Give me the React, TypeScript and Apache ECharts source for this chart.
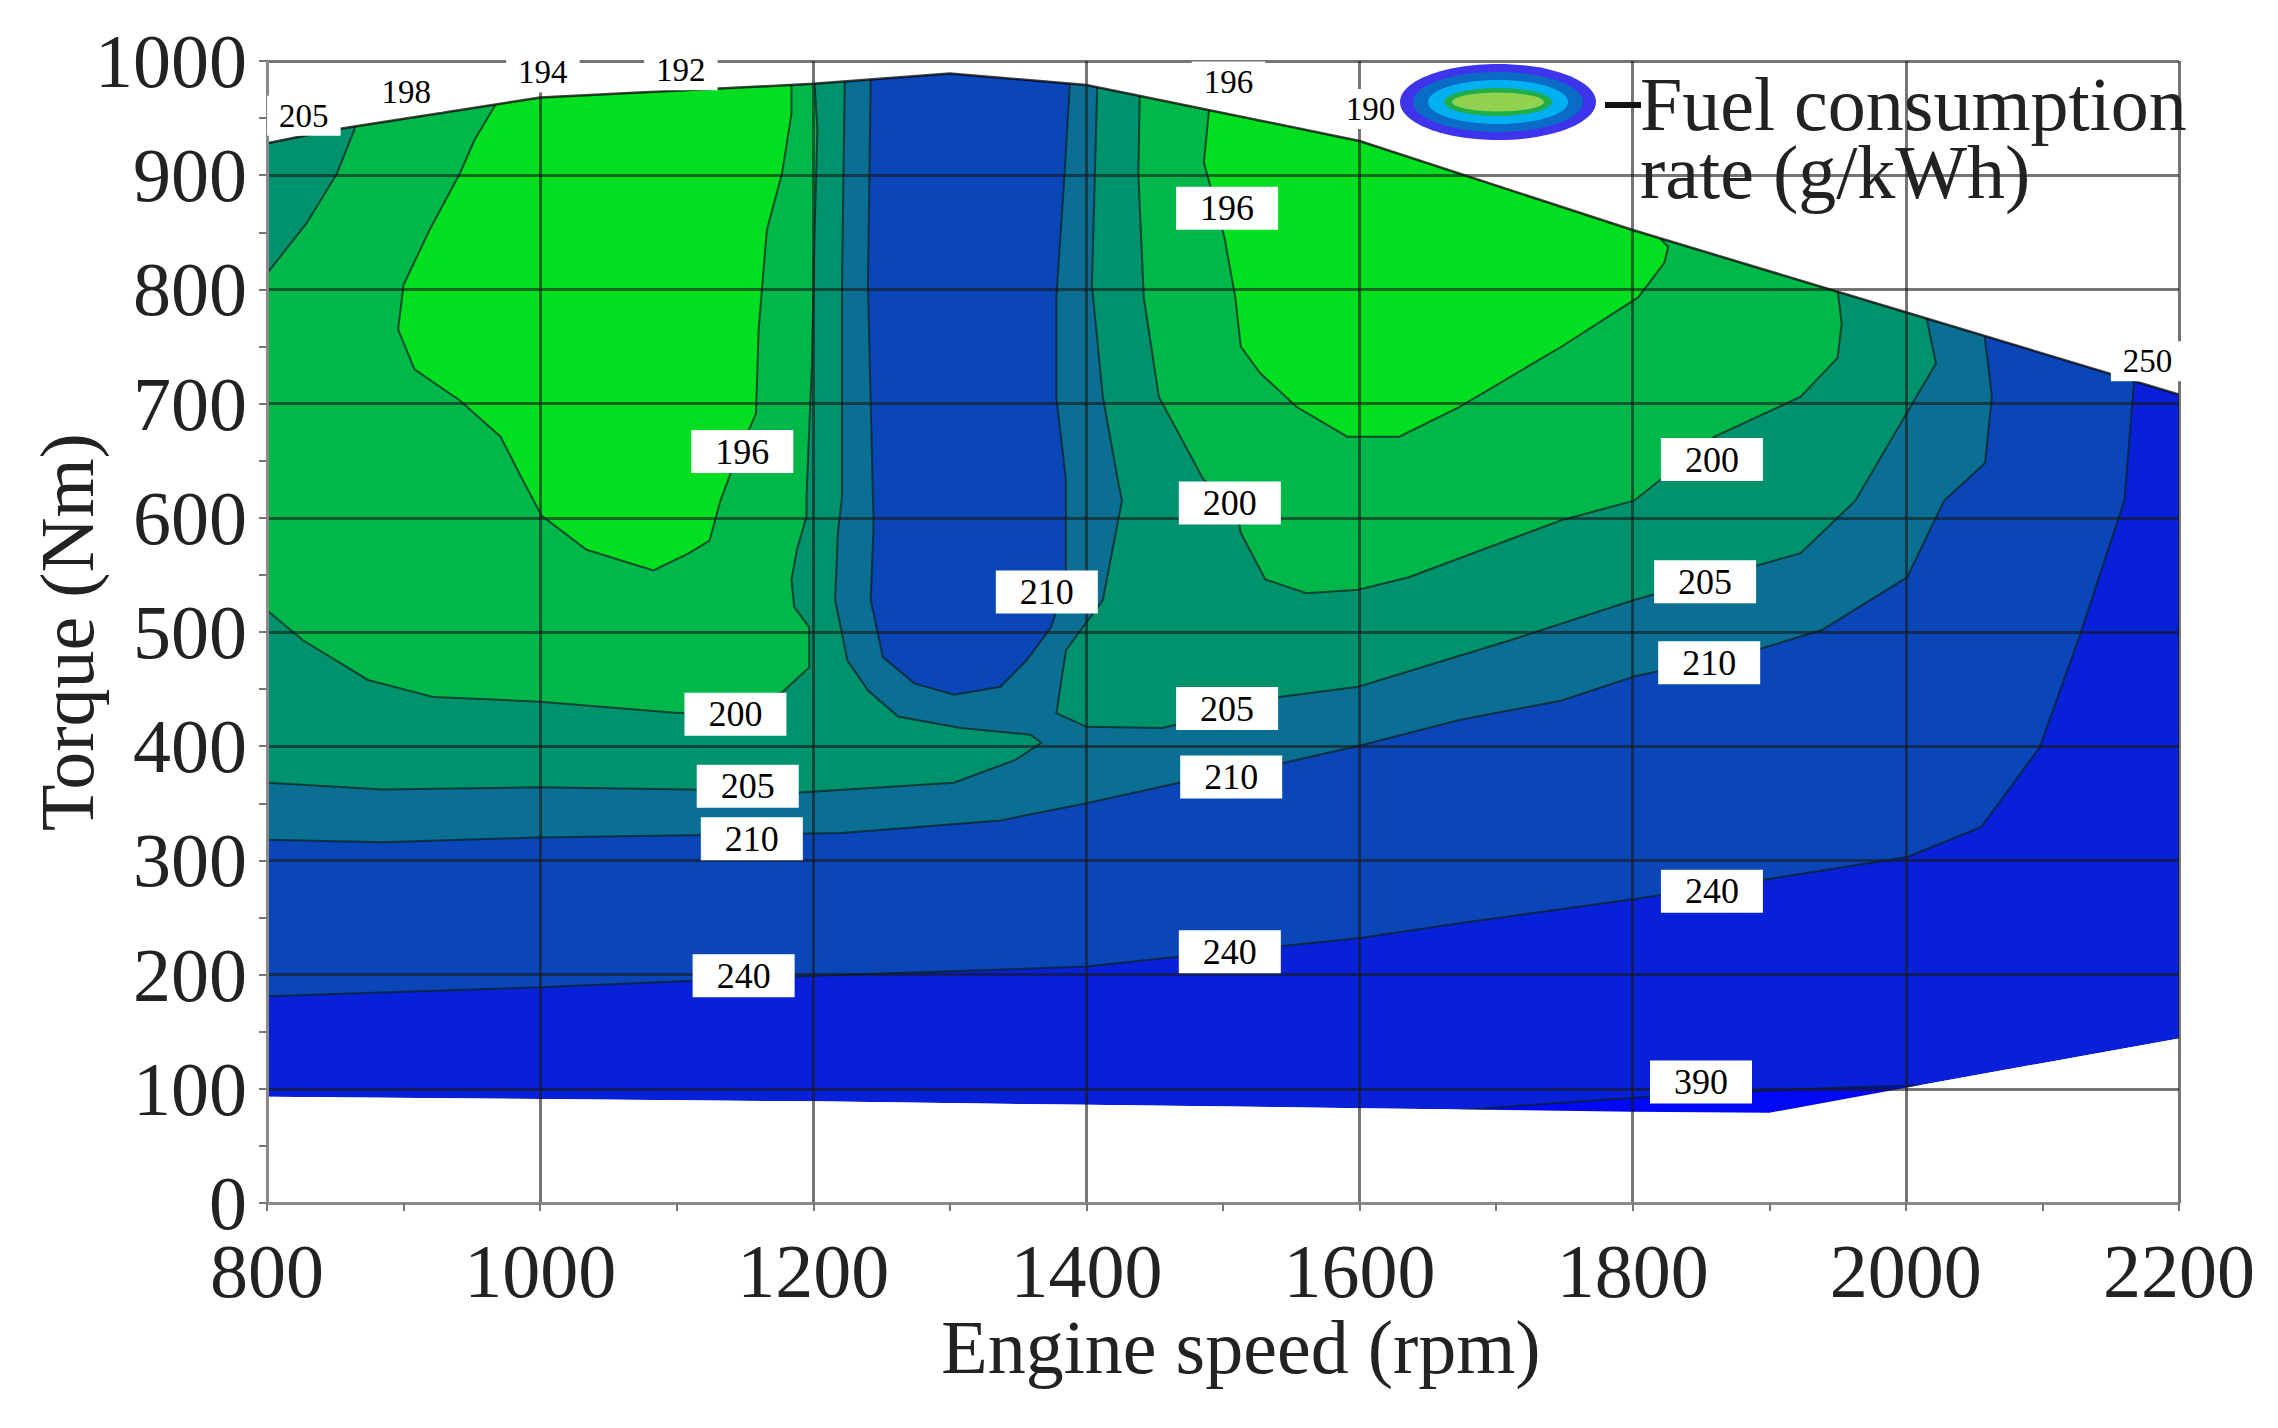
import React, { useEffect, useRef } from 'react';
import * as echarts from 'echarts';

// ---- axes ----
const rpmMin = 800, rpmMax = 2200, rpmStep = 200;
const torqueMin = 0, torqueMax = 1000, torqueStep = 100;

// ---- envelope of the map (rpm, Nm) ----
const envelopeTop = [[800, 928], [850, 940], [1000, 968], [1200, 980], [1300, 989], [1400, 979], [1600, 930], [1800, 852], [2000, 780], [2200, 708]];
const envelopeBottom = [[800, 93], [1000, 91], [1200, 89], [1400, 86], [1600, 83], [1800, 80], [1900, 79], [2000, 101], [2200, 144]];

// ---- contour lines (rpm, Nm) ----
const contour390 = [[1660, 80], [1750, 88], [1850, 96], [1950, 101], [2010, 103]];
const contour240 = [[780, 180], [800, 181], [1000, 189], [1200, 199], [1400, 207], [1470, 216], [1600, 232], [1673, 245], [1800, 266], [1896, 283], [2001, 303], [2055, 329], [2098, 399], [2128, 499], [2160, 615], [2167, 718], [2167, 1000]];
const contour210 = [[780, 318], [800, 318], [885, 316], [997, 320], [1109, 322], [1221, 324], [1337, 335], [1400, 350], [1468, 368], [1543, 385], [1602, 401], [1673, 423], [1748, 440], [1801, 461], [1890, 484], [1939, 502], [2001, 548], [2028, 615], [2058, 648], [2063, 706], [2058, 756], [2058, 1000]];
const contour205Left = [[1223, 1000], [1223, 979], [1221, 804], [1221, 618], [1218, 587], [1216, 528], [1225, 475], [1240, 449], [1262, 426], [1308, 416], [1359, 410], [1367, 403], [1348, 388], [1330, 380], [1303, 368], [1184, 359], [1109, 362], [997, 364], [885, 362], [800, 368], [780, 368]];
const contour205Right = [[1408, 1000], [1408, 981], [1404, 804], [1412, 706], [1423, 633], [1426, 615], [1412, 528], [1385, 484], [1378, 429], [1400, 417], [1456, 416], [1541, 443], [1599, 452], [1711, 493], [1801, 528], [1923, 569], [1963, 615], [2022, 735], [2015, 776], [2015, 1000]];
const contour210Ridge = [[1242, 1000], [1242, 979], [1240, 804], [1244, 602], [1244, 587], [1242, 528], [1251, 478], [1274, 455], [1303, 445], [1337, 452], [1356, 475], [1374, 504], [1385, 543], [1385, 615], [1385, 633], [1378, 706], [1378, 793], [1384, 901], [1388, 983], [1388, 1000]];
const contour200Left = [[780, 530], [800, 519], [826, 493], [874, 458], [922, 443], [1000, 439], [1101, 429], [1140, 430], [1177, 447], [1197, 469], [1197, 504], [1186, 522], [1184, 546], [1188, 572], [1195, 601], [1195, 618], [1199, 735], [1201, 852], [1203, 940], [1201, 979], [1201, 1000]];
const contour200Corner = [[870, 1000], [864, 940], [851, 901], [829, 858], [800, 814], [780, 800]];
const contour200Right = [[1439, 1000], [1439, 968], [1438, 901], [1442, 793], [1453, 706], [1486, 633], [1509, 615], [1513, 587], [1531, 546], [1561, 534], [1599, 537], [1636, 548], [1748, 598], [1801, 615], [1860, 671], [1923, 706], [1950, 740], [1953, 770], [1950, 800], [1950, 1000]];
const contour196Left = [[967, 1000], [967, 961], [952, 931], [941, 901], [919, 852], [900, 804], [896, 765], [908, 730], [941, 703], [971, 671], [986, 636], [1001, 602], [1034, 572], [1083, 554], [1109, 569], [1124, 580], [1132, 615], [1143, 650], [1158, 691], [1160, 765], [1166, 852], [1177, 901], [1184, 954], [1184, 1000]];
const contour196Right = [[1490, 1000], [1490, 960], [1486, 911], [1501, 846], [1509, 793], [1513, 750], [1527, 727], [1554, 697], [1591, 671], [1629, 671], [1673, 697], [1748, 750], [1804, 793], [1823, 823], [1826, 837], [1819, 846], [1804, 852], [1804, 1000]];

// ---- contour labels ----
const boxLabelText = ['196', '196', '200', '200', '210', '205', '200', '205', '210', '205', '210', '210', '240', '240', '240', '390'];
const boxLabelRpm = [1503, 1148, 1505, 1858, 1371, 1853, 1143, 1503, 1856, 1152, 1506, 1155, 1858, 1149, 1505, 1850];
const boxLabelTorque = [871, 658, 613, 651, 535, 544, 428, 433, 473, 365, 373, 319, 273, 199, 220, 106];

const edgeLabelText = ['205', '198', '194', '192', '196', '190', '250'];
const edgeLabelRpm = [827, 902, 1002, 1103, 1504, 1608, 2177];
const edgeLabelTorque = [952, 973, 990, 992, 982, 958, 737];

const legendLines = ['Fuel consumption', 'rate (g/kWh)'];

const COL = {
  out: '#0820d8',
  sliver: '#0008f4',
  blue: '#0a46b8',
  teal: '#0a6f93',
  tealGreen: '#00926c',
  green: '#00b84a',
  bright: '#02df20',
};

const FONT = '"Liberation Serif", "Times New Roman", serif';

export default function App() {
  const ref = useRef<HTMLDivElement>(null);

  useEffect(() => {
    if (!ref.current) return;
    const chart = echarts.init(ref.current, undefined, { renderer: 'svg' });

    const envelope = [...envelopeTop, ...[...envelopeBottom].reverse()];
    const band205 = [...contour205Left.slice(11).reverse(), ...contour205Right.slice(9), [780, 1000]];
    const ridge205 = [...contour205Left.slice(0, 12), ...contour205Right.slice(0, 10).reverse()];
    const polys: [number[][], string][] = [
      [envelope, COL.out],
      [[...contour390, [2010, 40], [1660, 40]], COL.sliver],
      [[...contour240, [780, 1000]], COL.blue],
      [[...contour210, [780, 1000]], COL.teal],
      [band205, COL.tealGreen],
      [ridge205, COL.teal],
      [contour210Ridge, COL.blue],
      [[...contour200Left, ...contour200Corner], COL.green],
      [contour200Right, COL.green],
      [contour196Left, COL.bright],
      [contour196Right, COL.bright],
    ];
    const lines = [contour390, contour240, contour210, contour205Left, contour205Right, contour210Ridge, contour200Left, contour200Corner, contour200Right, contour196Left, contour196Right];
    const maskTop = [...envelopeTop, [2200, 1100], [800, 1100]];
    const maskBottom = [...envelopeBottom, [2200, -100], [800, -100]];

    const labelStyleBase = { show: true, position: 'inside', formatter: '{b}', fontFamily: FONT, color: '#000', backgroundColor: '#fff', opacity: 1 };

    const labelSeries = (texts: string[], xs: number[], ys: number[], fontSize: number, padding: number[]) => ({
      type: 'scatter',
      z: 10,
      silent: true,
      symbol: 'circle',
      symbolSize: 1,
      itemStyle: { color: 'rgba(0,0,0,0)', opacity: 1 },
      data: texts.map((t, i) => ({ name: t, value: [xs[i], ys[i]] })),
      label: { ...labelStyleBase, fontSize, padding },
      labelLayout: { hideOverlap: false },
    });

    const option: any = {
      animation: false,
      backgroundColor: '#fff',
      grid: { left: 267, right: 99, top: 61, bottom: 225, containLabel: false, outerBoundsMode: 'none' },
      xAxis: {
        type: 'value', min: rpmMin, max: rpmMax, interval: rpmStep, z: 4,
        name: 'Engine speed (rpm)', nameLocation: 'middle', nameGap: 106, nameMoveOverlap: false,
        nameTextStyle: { fontFamily: FONT, fontSize: 76, color: '#222', padding: [0, 0, 0, 36] },
        axisLine: { show: true, lineStyle: { color: '#8a8a8a', width: 3 } },
        axisTick: { show: true, length: 8, lineStyle: { color: '#777', width: 2 } },
        minorTick: { show: true, splitNumber: 2, length: 8, lineStyle: { color: '#777', width: 2 } },
        axisLabel: { fontFamily: FONT, fontSize: 76, color: '#222', margin: 30, formatter: (v: number) => String(v) },
        splitLine: { show: true, lineStyle: { color: 'rgba(25,25,25,0.6)', width: 3 } },
      },
      yAxis: {
        type: 'value', min: torqueMin, max: torqueMax, interval: torqueStep, z: 4,
        name: 'Torque (Nm)', nameLocation: 'middle', nameGap: 162, nameRotate: 90, nameMoveOverlap: false,
        nameTextStyle: { fontFamily: FONT, fontSize: 76, color: '#222' },
        axisLine: { show: true, lineStyle: { color: '#8a8a8a', width: 3 } },
        axisTick: { show: true, length: 8, lineStyle: { color: '#777', width: 2 } },
        minorTick: { show: true, splitNumber: 2, length: 8, lineStyle: { color: '#777', width: 2 } },
        axisLabel: { fontFamily: FONT, fontSize: 76, color: '#222', margin: 20, formatter: (v: number) => String(v) },
        splitLine: { show: true, lineStyle: { color: 'rgba(25,25,25,0.6)', width: 3 } },
      },
      series: [
        {
          type: 'custom',
          clip: true,
          z: 2,
          silent: true,
          data: [[1500, 500]],
          renderItem: (_params: any, api: any) => {
            const pts = (arr: number[][]) => arr.map((p) => api.coord(p));
            const children: any[] = [];
            polys.forEach(([arr, fill]) => {
              children.push({ type: 'polygon', shape: { points: pts(arr) }, style: { fill, stroke: null } });
            });
            lines.forEach((arr) => {
              children.push({ type: 'polyline', shape: { points: pts(arr) }, style: { fill: null, stroke: 'rgba(10,35,35,0.75)', lineWidth: 2 } });
            });
            children.push({ type: 'polygon', shape: { points: pts(maskTop) }, style: { fill: '#fff' } });
            children.push({ type: 'polygon', shape: { points: pts(maskBottom) }, style: { fill: '#fff' } });
            children.push({ type: 'polyline', shape: { points: pts(envelopeTop) }, style: { fill: null, stroke: 'rgba(0,0,0,0.75)', lineWidth: 2.5 } });
            return { type: 'group', children };
          },
        },
        labelSeries(boxLabelText, boxLabelRpm, boxLabelTorque, 36, [4, 24, 3, 24]),
        labelSeries(edgeLabelText, edgeLabelRpm, edgeLabelTorque, 33, [4, 12, 3, 12]),
      ],
      graphic: [
        { type: 'ellipse', z: 20, shape: { cx: 1498, cy: 102, rx: 98, ry: 38 }, style: { fill: '#3d34ec' } },
        { type: 'ellipse', z: 21, shape: { cx: 1498, cy: 102, rx: 85, ry: 30 }, style: { fill: '#0a6cc4' } },
        { type: 'ellipse', z: 22, shape: { cx: 1498, cy: 102, rx: 70, ry: 22 }, style: { fill: '#00b0f0' } },
        { type: 'ellipse', z: 23, shape: { cx: 1498, cy: 102, rx: 54, ry: 14 }, style: { fill: '#1fae4a' } },
        { type: 'ellipse', z: 24, shape: { cx: 1498, cy: 102, rx: 46, ry: 9.5 }, style: { fill: '#92d050' } },
        { type: 'line', z: 20, shape: { x1: 1605, y1: 105, x2: 1641, y2: 105 }, style: { stroke: '#111', lineWidth: 6 } },
        { type: 'text', z: 20, x: 1640, y: 104, style: { text: legendLines[0], fontFamily: FONT, fontSize: 76, fill: '#222', verticalAlign: 'middle' } },
        { type: 'text', z: 20, x: 1640, y: 172, style: { text: legendLines[1], fontFamily: FONT, fontSize: 76, fill: '#222', verticalAlign: 'middle' } },
      ],
    };
    chart.setOption(option);
    return () => chart.dispose();
  }, []);

  return <div ref={ref} style={{ position: 'fixed', left: 0, top: 0, width: 2278, height: 1428, background: '#fff' }} />;
}
